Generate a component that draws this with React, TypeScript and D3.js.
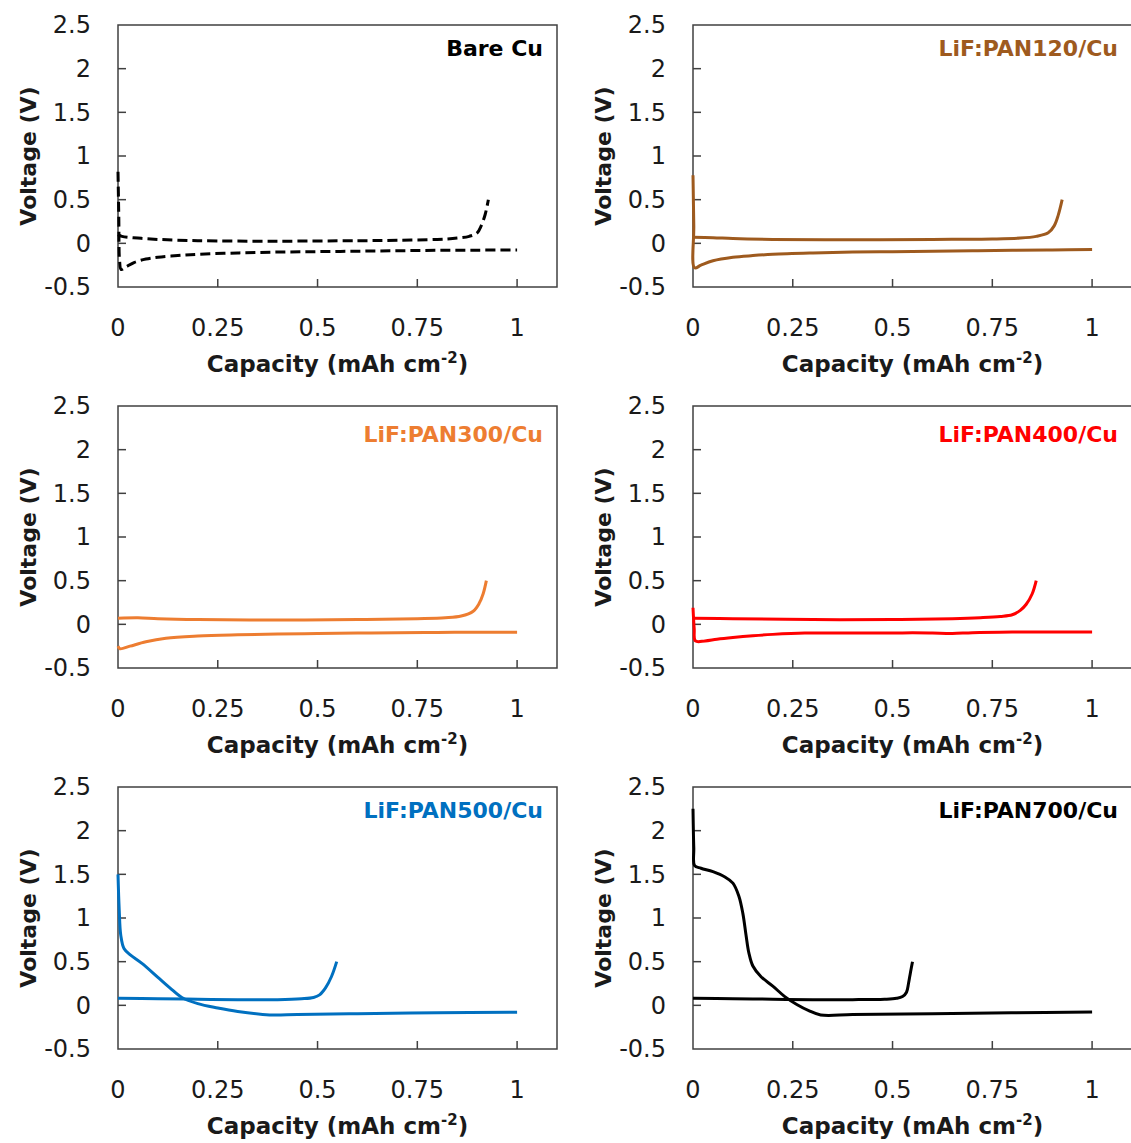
import { useEffect, useRef } from 'react';
import * as d3 from 'd3';

type Pt = [number, number];

// axis ticks
const capacityTicks = [0, 0.25, 0.5, 0.75, 1];
const voltageTicks = [-0.5, 0, 0.5, 1, 1.5, 2, 2.5];

// [capacity (mAh cm-2), voltage (V)]
const bareCuPlating: Pt[] = [[0, 0.82], [0.002, 0.3], [0.004, -0.2], [0.008, -0.3], [0.02, -0.27], [0.04, -0.22], [0.07, -0.18], [0.1, -0.16], [0.15, -0.14], [0.2, -0.125], [0.3, -0.11], [0.4, -0.1], [0.5, -0.095], [0.6, -0.09], [0.7, -0.085], [0.8, -0.08], [0.9, -0.078], [1.0, -0.075]];
const bareCuStripping: Pt[] = [[0, 0.1], [0.01, 0.08], [0.05, 0.06], [0.1, 0.045], [0.2, 0.03], [0.4, 0.025], [0.6, 0.03], [0.7, 0.035], [0.8, 0.045], [0.85, 0.06], [0.88, 0.08], [0.9, 0.12], [0.91, 0.2], [0.92, 0.33], [0.928, 0.5]];

const pan120Plating: Pt[] = [[0, 0.78], [0.002, 0.2], [0.004, -0.28], [0.02, -0.25], [0.05, -0.2], [0.1, -0.16], [0.15, -0.14], [0.2, -0.125], [0.3, -0.11], [0.4, -0.1], [0.5, -0.095], [0.6, -0.09], [0.7, -0.085], [0.8, -0.08], [0.9, -0.075], [1.0, -0.07]];
const pan120Stripping: Pt[] = [[0, 0.07], [0.05, 0.065], [0.1, 0.055], [0.2, 0.045], [0.4, 0.04], [0.6, 0.045], [0.75, 0.05], [0.82, 0.06], [0.86, 0.08], [0.89, 0.12], [0.905, 0.2], [0.915, 0.32], [0.925, 0.5]];

const pan300Plating: Pt[] = [[0, -0.25], [0.005, -0.28], [0.03, -0.25], [0.07, -0.2], [0.12, -0.16], [0.2, -0.135], [0.3, -0.12], [0.4, -0.11], [0.5, -0.105], [0.6, -0.1], [0.7, -0.095], [0.8, -0.093], [0.9, -0.09], [1.0, -0.09]];
const pan300Stripping: Pt[] = [[0, 0.07], [0.05, 0.075], [0.1, 0.065], [0.2, 0.055], [0.4, 0.05], [0.6, 0.055], [0.75, 0.065], [0.82, 0.075], [0.86, 0.095], [0.89, 0.15], [0.905, 0.24], [0.915, 0.35], [0.923, 0.5]];

const pan400Plating: Pt[] = [[0, 0.19], [0.003, -0.05], [0.006, -0.19], [0.03, -0.19], [0.06, -0.17], [0.1, -0.15], [0.15, -0.13], [0.2, -0.115], [0.28, -0.1], [0.4, -0.1], [0.5, -0.1], [0.55, -0.097], [0.6, -0.1], [0.65, -0.105], [0.7, -0.095], [0.8, -0.088], [0.9, -0.087], [1.0, -0.087]];
const pan400Stripping: Pt[] = [[0, 0.07], [0.1, 0.065], [0.3, 0.055], [0.5, 0.055], [0.65, 0.065], [0.72, 0.076], [0.77, 0.09], [0.8, 0.11], [0.82, 0.16], [0.835, 0.23], [0.85, 0.35], [0.86, 0.5]];

const pan500Plating: Pt[] = [[0, 1.5], [0.003, 1.1], [0.007, 0.8], [0.015, 0.65], [0.03, 0.58], [0.06, 0.48], [0.1, 0.32], [0.13, 0.2], [0.16, 0.09], [0.2, 0.02], [0.25, -0.03], [0.3, -0.07], [0.38, -0.11], [0.45, -0.105], [0.6, -0.095], [0.8, -0.085], [1.0, -0.078]];
const pan500Stripping: Pt[] = [[0, 0.08], [0.1, 0.075], [0.2, 0.07], [0.3, 0.065], [0.4, 0.065], [0.46, 0.075], [0.49, 0.09], [0.505, 0.12], [0.52, 0.2], [0.535, 0.33], [0.548, 0.5]];

const pan700Plating: Pt[] = [[0, 2.25], [0.002, 1.8], [0.004, 1.6], [0.02, 1.57], [0.05, 1.53], [0.08, 1.47], [0.1, 1.4], [0.115, 1.25], [0.125, 1.05], [0.133, 0.8], [0.14, 0.6], [0.15, 0.45], [0.17, 0.33], [0.2, 0.22], [0.23, 0.1], [0.26, 0.01], [0.29, -0.06], [0.32, -0.11], [0.4, -0.105], [0.6, -0.095], [0.8, -0.085], [1.0, -0.075]];
const pan700Stripping: Pt[] = [[0, 0.08], [0.1, 0.075], [0.2, 0.07], [0.3, 0.065], [0.4, 0.065], [0.48, 0.07], [0.51, 0.08], [0.525, 0.1], [0.535, 0.15], [0.54, 0.25], [0.545, 0.38], [0.55, 0.5]];

const panelTitles = ['Bare Cu', 'LiF:PAN120/Cu', 'LiF:PAN300/Cu', 'LiF:PAN400/Cu', 'LiF:PAN500/Cu', 'LiF:PAN700/Cu'];
const panelColors = ['#000000', '#9e5a1e', '#ed7d31', '#ff0000', '#0070c0', '#000000'];
const panelCurves: Pt[][][] = [
    [bareCuPlating, bareCuStripping],
    [pan120Plating, pan120Stripping],
    [pan300Plating, pan300Stripping],
    [pan400Plating, pan400Stripping],
    [pan500Plating, pan500Stripping],
    [pan700Plating, pan700Stripping],
];

const FONT = '"DejaVu Sans", sans-serif';
const AXIS = '#404040';

const App = () => {
    const svgRef = useRef<SVGSVGElement>(null);

    useEffect(() => {
        const svg = d3.select(svgRef.current);
        svg.selectAll('*').remove();

        const colLeft = [118, 693];
        const rowTop = [25, 406, 787];
        const titleOffset = [23, 28, 23];
        const plotH = 262;
        const plotW = 439;

        panelTitles.forEach((title, i) => {
            const col = i % 2;
            const row = Math.floor(i / 2);
            const x0 = colLeft[col];
            const top = rowTop[row];
            const bottom = top + plotH;

            const x = d3.scaleLinear().domain([0, 1.1]).range([x0, x0 + plotW]);
            const y = d3.scaleLinear().domain([-0.5, 2.5]).range([bottom, top]);

            const g = svg.append('g');

            // frame
            g.append('rect')
                .attr('x', x(0)).attr('y', y(2.5))
                .attr('width', x(1.1) - x(0)).attr('height', y(-0.5) - y(2.5))
                .attr('fill', 'none').attr('stroke', AXIS).attr('stroke-width', 1.5);

            // inward ticks
            g.selectAll('.xt').data(capacityTicks.filter(d => d > 0)).enter().append('line')
                .attr('x1', d => x(d)).attr('x2', d => x(d))
                .attr('y1', bottom).attr('y2', bottom - 8)
                .attr('stroke', AXIS).attr('stroke-width', 1.5);
            g.selectAll('.yt').data(voltageTicks.filter(d => d > -0.5 && d < 2.5)).enter().append('line')
                .attr('x1', x0).attr('x2', x0 + 8)
                .attr('y1', d => y(d)).attr('y2', d => y(d))
                .attr('stroke', AXIS).attr('stroke-width', 1.5);

            // tick labels
            g.selectAll('.xl').data(capacityTicks).enter().append('text')
                .attr('x', d => x(d)).attr('y', bottom + 41).attr('dy', '0.35em')
                .attr('text-anchor', 'middle')
                .style('font-family', FONT).style('font-size', '24px').attr('fill', '#1a1a1a')
                .text(d => String(d));
            g.selectAll('.yl').data(voltageTicks).enter().append('text')
                .attr('x', x0 - 27).attr('y', d => y(d)).attr('dy', '0.35em')
                .attr('text-anchor', 'end')
                .style('font-family', FONT).style('font-size', '24px').attr('fill', '#1a1a1a')
                .text(d => String(d));

            // axis titles
            const xt = g.append('text')
                .attr('x', (x(0) + x(1.1)) / 2).attr('y', bottom + 77).attr('dy', '0.35em')
                .attr('text-anchor', 'middle')
                .style('font-family', FONT).style('font-size', '23px').style('font-weight', 'bold')
                .attr('fill', '#1a1a1a');
            xt.append('tspan').text('Capacity (mAh cm');
            xt.append('tspan').attr('dy', -9).style('font-size', '15px').text('-2');
            xt.append('tspan').attr('dy', 9).text(')');

            g.append('text')
                .attr('transform', `translate(${x0 - 90},${(top + bottom) / 2}) rotate(-90)`)
                .attr('dy', '0.35em')
                .attr('text-anchor', 'middle')
                .style('font-family', FONT).style('font-size', '22px').style('font-weight', 'bold')
                .attr('fill', '#1a1a1a')
                .text('Voltage (V)');

            // panel title
            g.append('text')
                .attr('x', x0 + 425).attr('y', top + titleOffset[row]).attr('dy', '0.35em')
                .attr('text-anchor', 'end')
                .style('font-family', FONT).style('font-size', '22px').style('font-weight', 'bold')
                .attr('fill', panelColors[i])
                .text(title);

            // curves
            const line = d3.line<Pt>()
                .x(d => x(d[0]))
                .y(d => y(d[1]))
                .curve(d3.curveCatmullRom.alpha(0.5));

            panelCurves[i].forEach(curve => {
                g.append('path')
                    .attr('d', line(curve))
                    .attr('fill', 'none')
                    .attr('stroke', panelColors[i])
                    .attr('stroke-width', 3)
                    .attr('stroke-linejoin', 'round')
                    .attr('stroke-dasharray', i === 0 ? '10,5' : null);
            });
        });
    }, []);

    return (
        <svg
            ref={svgRef}
            width={1131}
            height={1143}
            style={{ position: 'absolute', left: 0, top: 0, background: '#fff' }}
        />
    );
};

export default App;
